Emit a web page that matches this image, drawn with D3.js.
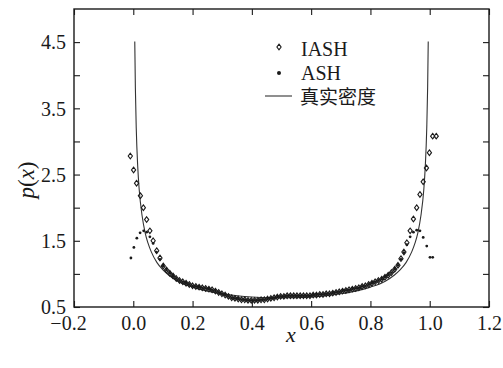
<!DOCTYPE html>
<html>
<head>
<meta charset="utf-8">
<script src="https://cdn.jsdelivr.net/npm/d3@7/dist/d3.min.js"></script>
<style>
  html, body { margin: 0; padding: 0; background: #fff; }
  svg { display: block; }
</style>
</head>
<body>
<svg id="chart" width="503" height="368"></svg>
<script>
// ---- data ----
const xTicks = [-0.2, 0.0, 0.2, 0.4, 0.6, 0.8, 1.0, 1.2];
const xTickLabels = ["\u22120.2", "0.0", "0.2", "0.4", "0.6", "0.8", "1.0", "1.2"];
const yTicks = [0.5, 1.0, 1.5, 2.0, 2.5, 3.0, 3.5, 4.0, 4.5];
const yTickLabels = ["0.5", "", "1.5", "", "2.5", "", "3.5", "", "4.5"];

// shared middle part of both histograms (x, p)
const midX = [0.112,0.123,0.134,0.145,0.156,0.167,0.178,0.189,0.200,0.211,0.222,0.233,0.244,0.255,0.266,0.277,0.288,0.299,0.310,0.321,0.332,0.343,0.354,0.365,0.376,0.387,0.398,0.409,0.420,0.431,0.442,0.453,0.464,0.475,0.486,0.497,0.508,0.519,0.530,0.541,0.552,0.563,0.574,0.585,0.596,0.607,0.618,0.629,0.640,0.651,0.662,0.673,0.684,0.695,0.706,0.717,0.728,0.739,0.750,0.761,0.772,0.783,0.794,0.805,0.816,0.827,0.838,0.849,0.860,0.871,0.882];
const midY = [1.06,1.01,0.97,0.93,0.90,0.88,0.86,0.84,0.82,0.81,0.80,0.79,0.78,0.77,0.76,0.74,0.72,0.70,0.68,0.66,0.64,0.63,0.62,0.61,0.61,0.60,0.60,0.60,0.60,0.61,0.61,0.62,0.63,0.64,0.65,0.66,0.66,0.67,0.67,0.67,0.67,0.67,0.67,0.67,0.67,0.68,0.68,0.69,0.69,0.70,0.70,0.71,0.72,0.73,0.74,0.75,0.76,0.77,0.78,0.79,0.81,0.82,0.84,0.86,0.88,0.90,0.92,0.95,0.98,1.02,1.07];

const iashLeftX = [-0.010,0.001,0.011,0.024,0.034,0.045,0.056,0.067,0.079,0.090,0.101];
const iashLeftY = [2.78,2.57,2.37,2.18,2.00,1.82,1.65,1.50,1.35,1.24,1.12];
const iashRightX = [0.893,0.903,0.913,0.923,0.934,0.945,0.956,0.967,0.978,0.989,0.999,1.010,1.022];
const iashRightY = [1.13,1.23,1.33,1.47,1.65,1.83,2.00,2.20,2.39,2.60,2.83,3.08,3.08];

const ashLeftX = [-0.008,0.002,0.012,0.023,0.035,0.045,0.056,0.067,0.078,0.090,0.101];
const ashLeftY = [1.24,1.40,1.54,1.62,1.65,1.63,1.56,1.46,1.33,1.22,1.12];
const ashRightX = [0.893,0.903,0.913,0.923,0.934,0.945,0.956,0.967,0.978,0.990,1.001,1.010];
const ashRightY = [1.13,1.22,1.32,1.44,1.56,1.63,1.66,1.65,1.55,1.42,1.25,1.25];

// true density curve
const trueX = [0.005,0.007,0.010,0.015,0.020,0.030,0.040,0.050,0.060,0.080,0.100,0.120,0.150,0.200,0.250,0.300,0.350,0.400,0.450,0.500,0.550,0.600,0.650,0.700,0.750,0.800,0.850,0.880,0.900,0.920,0.940,0.950,0.960,0.970,0.980,0.985,0.990,0.993,0.995];
const trueY = [4.51,3.82,3.20,2.62,2.27,1.87,1.62,1.46,1.34,1.17,1.06,0.98,0.89,0.80,0.74,0.70,0.67,0.65,0.64,0.64,0.64,0.65,0.67,0.70,0.74,0.80,0.89,0.98,1.06,1.17,1.34,1.46,1.62,1.87,2.27,2.62,3.20,3.82,4.51];

const legendLabels = ["IASH", "ASH", "真实密度"];

// ---- build ----
const SERIF = "Liberation Serif";
const CJK = "Noto Sans CJK SC";
const zip = (xs, ys) => xs.map((v, i) => [v, ys[i]]);
const iash = zip(iashLeftX.concat(midX, iashRightX), iashLeftY.concat(midY, iashRightY));
const ash = zip(ashLeftX.concat(midX, ashRightX), ashLeftY.concat(midY, ashRightY));
const truth = zip(trueX, trueY);

const L = 74, R = 489, T = 9, B = 307;
const x = d3.scaleLinear().domain([-0.2, 1.2]).range([L, R]);
const y = d3.scaleLinear().domain([0.5, 5.0]).range([B, T]);
const ink = "#1a1a1a";

const svg = d3.select("#chart");

// axes with inward ticks
const gB = svg.append("g").attr("transform", `translate(0,${B})`)
  .call(d3.axisBottom(x).tickValues(xTicks).tickSize(-6).tickPadding(9)
    .tickFormat((d, i) => xTickLabels[i]));
const gT = svg.append("g").attr("transform", `translate(0,${T})`)
  .call(d3.axisTop(x).tickValues(xTicks).tickSize(-6).tickFormat(""));
const gL = svg.append("g").attr("transform", `translate(${L},0)`)
  .call(d3.axisLeft(y).tickValues(yTicks).tickSize(-6).tickPadding(8)
    .tickFormat((d, i) => yTickLabels[i]));
const gR = svg.append("g").attr("transform", `translate(${R},0)`)
  .call(d3.axisRight(y).tickValues(yTicks).tickSize(-6).tickFormat(""));

[gB, gT, gL, gR].forEach(g => {
  g.attr("font-family", SERIF).attr("font-size", 20);
  g.select(".domain").remove();
  g.selectAll(".tick line").attr("stroke", ink).attr("stroke-width", 1.1);
  g.selectAll(".tick text").attr("fill", ink).attr("font-family", SERIF).attr("font-size", 20);
});
gB.selectAll(".tick text").attr("dy", "0.71em");
gB.selectAll(".tick text").filter((d) => d < 0).attr("dx", -6);
gL.selectAll(".tick text").attr("dy", "0.34em");

// frame
svg.append("rect").attr("x", L).attr("y", T).attr("width", R - L).attr("height", B - T)
  .attr("fill", "none").attr("stroke", ink).attr("stroke-width", 1.4);

// true density line
svg.append("path").datum(truth)
  .attr("fill", "none").attr("stroke", "#333").attr("stroke-width", 1.1)
  .attr("d", d3.line().x(d => x(d[0])).y(d => y(d[1])).curve(d3.curveMonotoneX));

// IASH diamonds
const diamond = "M0,-2.8L2.1,0L0,2.8L-2.1,0Z";
svg.append("g").selectAll("path").data(iash).join("path")
  .attr("d", diamond)
  .attr("transform", d => `translate(${x(d[0])},${y(d[1])})`)
  .attr("fill", "none").attr("stroke", ink).attr("stroke-width", 1.1);

// ASH dots
svg.append("g").selectAll("circle").data(ash).join("circle")
  .attr("cx", d => x(d[0])).attr("cy", d => y(d[1])).attr("r", 1.4)
  .attr("fill", ink);

// axis titles
svg.append("text").attr("x", 291).attr("y", 342).attr("text-anchor", "middle")
  .attr("font-family", SERIF).attr("font-size", 22).attr("font-style", "italic")
  .attr("fill", ink).text("x");
svg.append("text").attr("transform", "translate(34,180) rotate(-90)").attr("text-anchor", "middle")
  .attr("font-family", SERIF).attr("font-size", 23).attr("fill", ink)
  .call(t => {
    t.append("tspan").attr("font-style", "italic").text("p");
    t.append("tspan").text("(");
    t.append("tspan").attr("font-style", "italic").text("x");
    t.append("tspan").text(")");
  });

// legend
const lg = svg.append("g");
lg.append("path").attr("d", diamond).attr("transform", "translate(279,47)")
  .attr("fill", "none").attr("stroke", ink).attr("stroke-width", 1.1);
lg.append("text").attr("x", 301).attr("y", 56).attr("font-family", SERIF).attr("font-size", 20)
  .attr("fill", ink).text(legendLabels[0]);
lg.append("circle").attr("cx", 279).attr("cy", 73).attr("r", 2).attr("fill", ink);
lg.append("text").attr("x", 301).attr("y", 80).attr("font-family", SERIF).attr("font-size", 20)
  .attr("fill", ink).text(legendLabels[1]);
lg.append("line").attr("x1", 265).attr("x2", 292).attr("y1", 96).attr("y2", 96)
  .attr("stroke", "#333").attr("stroke-width", 1.1);
lg.append("text").attr("x", 300).attr("y", 104).attr("font-family", CJK).attr("font-size", 19)
  .attr("fill", ink).text(legendLabels[2]);
</script>
</body>
</html>
